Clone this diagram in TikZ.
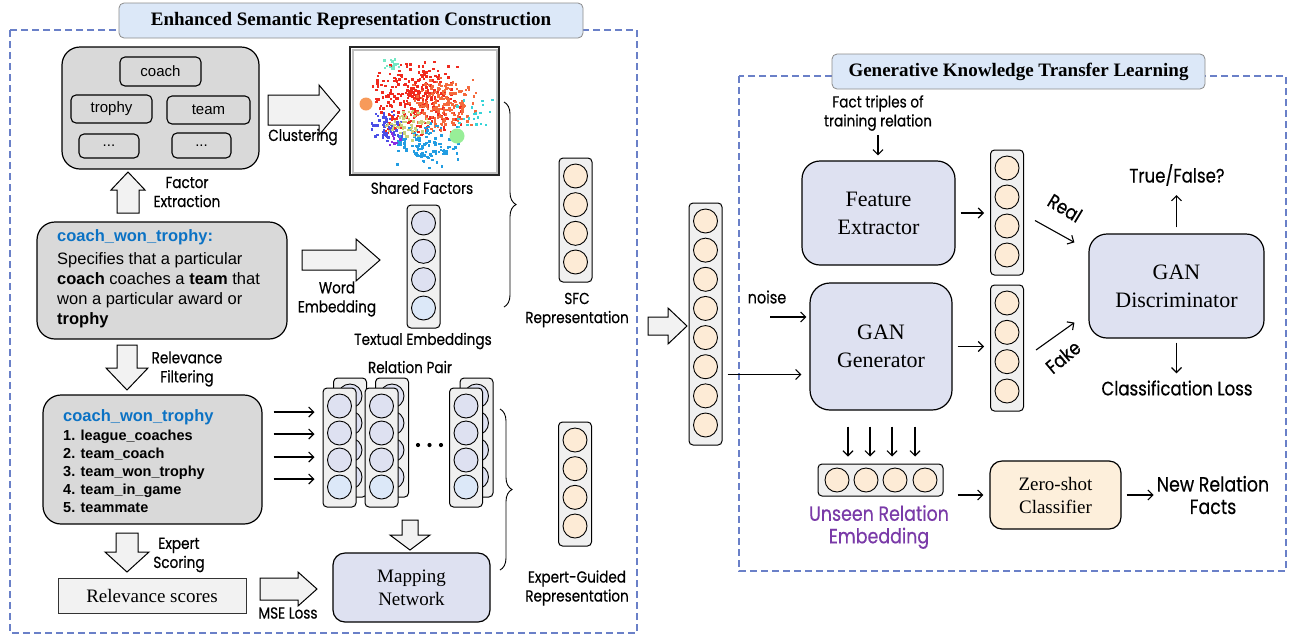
\documentclass[tikz,border=0pt]{standalone}
\usepackage{fontspec}
\setmainfont{Liberation Serif}
\newfontfamily\arialf{Liberation Sans}
\newfontfamily\labf[FakeStretch=0.85,FakeBold=0.4]{Poppins}
\usetikzlibrary{arrows.meta,decorations.pathreplacing,calc}
\definecolor{dashblue}{HTML}{6A80C8}
\definecolor{titlefill}{HTML}{DCE8F8}
\definecolor{boxgray}{HTML}{D9D9D9}
\definecolor{lav}{HTML}{DEE1F1}
\definecolor{peach}{HTML}{FDEBD6}
\definecolor{lblue}{HTML}{DCE8F8}
\definecolor{vecfill}{HTML}{F0F0F0}
\definecolor{keyblue}{HTML}{0B72C4}
\definecolor{purp}{HTML}{7A3AA8}
\definecolor{zsfill}{HTML}{FDEFDB}
\definecolor{arrfill}{HTML}{F2F2F2}
\definecolor{sred}{HTML}{F02A1E}
\definecolor{sorange}{HTML}{F4693C}
\definecolor{sviolet}{HTML}{4B4FE6}
\definecolor{sazure}{HTML}{229DE2}
\definecolor{solive}{HTML}{CAD27E}
\definecolor{scyan}{HTML}{36D3D8}
\definecolor{saqua}{HTML}{74E8C4}
\definecolor{spurple}{HTML}{8A2BE2}
\definecolor{sbigorange}{HTML}{F79A5A}
\definecolor{sbiggreen}{HTML}{98EE98}

\newcommand\vecV[7]{%
  \pgfmathsetmacro\vt{#3-18}\pgfmathsetmacro\vb{#4+20}%
  \pgfmathsetmacro\vh{\vb-\vt}\pgfmathsetmacro\vc{(\vt+\vb)/2}%
  \pgfmathsetmacro\vs{(#4-#3)/(#5-1)}%
  \node[vecbox, minimum height=\vh pt] (#1) at (#2,\vc) {};
  \foreach \k in {1,...,#5}{%
    \ifnum\k=#5 \def\cf{#7}\else\def\cf{#6}\fi
    \node[cnode, fill=\cf] (#1-\k) at (#2,{#3+(\k-1)*\vs}) {};
  }}
\newcommand\blockarr[7]{%
  \begin{scope}[shift={(#1,#2)},rotate=#4]
  \draw[barrow] (0,-#5) -- ({#3-#7},-#5) -- ({#3-#7},-#6) -- (#3,0) -- ({#3-#7},#6) -- ({#3-#7},#5) -- (0,#5) -- cycle;
  \end{scope}}

\begin{document}
\begin{tikzpicture}[x=1pt,y=-1pt,
  vecbox/.style={draw, line width=1pt, fill=vecfill, rounded corners=4pt, minimum width=33pt, inner sep=0pt},
  cnode/.style={circle, draw, line width=0.9pt, minimum size=24pt, inner sep=0pt},
  graybox/.style={draw, line width=1.2pt, fill=boxgray, rounded corners=18pt, inner sep=0pt},
  wordbox/.style={draw, line width=1.1pt, fill=boxgray, rounded corners=5pt, inner sep=0pt, font=\arialf\fontsize{15}{18}\selectfont},
  lavbox/.style={draw, line width=1.2pt, fill=lav, rounded corners=18pt, inner sep=0pt, align=center, font=\fontsize{22}{28}\selectfont},
  titlebox/.style={draw=black!45, line width=0.8pt, fill=titlefill, rounded corners=5pt, inner sep=0pt, font=\bfseries\fontsize{19}{22}\selectfont},
  dashbox/.style={draw=dashblue, line width=1.3pt, dash pattern=on 7pt off 4pt},
  barrow/.style={draw, line width=1pt, fill=arrfill, line join=miter},
  arr/.style={-{Straight Barb[length=5pt,width=10pt]}, line width=1.1pt},
  lab/.style={font=\labf\fontsize{16}{19}\selectfont, align=center, inner sep=0pt},
  labR/.style={font=\labf\fontsize{19.5}{22}\selectfont, align=center, inner sep=0pt},
  labB/.style={font=\labf\fontsize{20.5}{22.5}\selectfont, align=center, inner sep=0pt},
  desc/.style={font=\arialf\fontsize{16.5}{20}\selectfont, anchor=base west, inner sep=0pt},
  item/.style={font=\arialf\bfseries\fontsize{14.5}{18}\selectfont, anchor=base west, inner sep=0pt},
  head/.style={font=\arialf\bfseries\fontsize{16.5}{20}\selectfont, text=keyblue, anchor=base west, inner sep=0pt},
  brace/.style={decorate, decoration={brace, amplitude=12pt, aspect=0.5}, line width=0.9pt}
]
\useasboundingbox (0,0) rectangle (1293,641);
\fill[white] (0,0) rectangle (1293,641);

% ---------- frames ----------
\draw[dashbox] (10,30) rectangle (637,633);
\draw[dashbox] (739,76) rectangle (1286,571);
\node[titlebox, minimum width=464pt, minimum height=35pt] (tl) at (351,20.5) {Enhanced Semantic Representation Construction};
\node[titlebox, minimum width=373pt, minimum height=35pt] (tr) at (1018.5,71.5) {Generative Knowledge Transfer Learning};

% ---------- factor box ----------
\node[graybox, minimum width=197pt, minimum height=122pt] (fac) at (160.5,108) {};
\node[wordbox, minimum width=81pt, minimum height=29pt] (wcoach) at (160.5,71.5) {coach};
\node[wordbox, minimum width=81pt, minimum height=28pt] (wtrophy) at (111.5,109) {trophy};
\node[wordbox, minimum width=83pt, minimum height=28pt] (wteam) at (208.5,110) {team};
\node[wordbox, minimum width=60pt, minimum height=24pt] (wd1) at (109,146) {...};
\node[wordbox, minimum width=59pt, minimum height=25pt] (wd2) at (201.5,145.5) {...};

% ---------- scatter ----------
\node[draw=black!85, line width=1.5pt, fill=white, minimum width=149pt, minimum height=128pt, inner sep=0pt] (sc) at (424.5,111) {};
\begin{scope}
\clip (353,50) rectangle (496,172);
\pgfmathsetseed{11}
\foreach \i in {1,...,300} \fill[sred] ({416+50*(rand+rand)/2},{97+40*(rand+rand)/2}) rectangle ++(2.5,2.5);
\foreach \i in {1,...,180} \fill[sorange] ({443+36*(rand+rand)/2},{104+30*(rand+rand)/2}) rectangle ++(2.5,2.5);
\foreach \i in {1,...,60} \fill[sviolet] ({387+20*(rand+rand)/2},{124+17*(rand+rand)/2}) rectangle ++(2.5,2.5);
\foreach \i in {1,...,110} \fill[sazure] ({425+36*(rand+rand)/2},{144+24*(rand+rand)/2}) rectangle ++(2.5,2.5);
\foreach \i in {1,...,60} \fill[solive] ({406+24*(rand+rand)/2},{123+18*(rand+rand)/2}) rectangle ++(2.5,2.5);
\foreach \i in {1,...,22} \fill[scyan] ({474+18*rand},{112+16*rand}) rectangle ++(2.4,2.4);
\foreach \i in {1,...,16} \fill[saqua] ({391+8*rand},{63+5*rand}) rectangle ++(2.4,2.4);
\foreach \i in {1,...,10} \fill[spurple] ({394+6*rand},{138+6*rand}) rectangle ++(2.4,2.4);
\fill[sbigorange] (366,104) circle (6.5);
\fill[sbiggreen] (457,136) circle (7.5);
\end{scope}
\draw[black!25, line width=2pt] (352.5,49.5) rectangle (496.5,172.5);
\node[lab] (lclu) at (303,137) {Clustering};
\node[lab] (lsf) at (422,188) {Shared Factors};
\blockarr{268}{110}{72}{0}{15}{25}{21}

% ---------- description box ----------
\node[graybox, minimum width=250pt, minimum height=117pt] (txt) at (162,280.5) {};
\node[head] (h1) at (57,241) {coach\_won\_trophy:};
\node[desc] (d1) at (57,264) {Specifies that a particular};
\node[desc] (d2) at (57,284) {\textbf{coach} coaches a \textbf{team} that};
\node[desc] (d3) at (57,304) {won a particular award or};
\node[desc] (d4) at (57,324) {\textbf{trophy}};
\blockarr{128}{213}{41}{90}{11}{17}{18}
\node[lab] (lfe) at (187,192) {Factor\\Extraction};

% ---------- textual embeddings ----------
\blockarr{302}{260}{78}{0}{10}{21}{24}
\node[lab] (lwe) at (337,299) {Word\\Embedding};
\vecV{tev}{423.5}{223}{308}{4}{lav}{lblue}
\node[lab] (lte) at (423,341) {Textual Embeddings};

% ---------- SFC ----------
\draw[brace] (504,102) -- (504,307);
\vecV{sfc}{575.5}{176}{262}{4}{peach}{peach}
\node[lab] (lsfc) at (577,310) {SFC\\Representation};

% ---------- relevance filtering ----------
\blockarr{127}{345}{45}{-90}{10}{21}{22}
\node[lab] (lrf) at (187,369) {Relevance\\Filtering};
\node[graybox, minimum width=219pt, minimum height=129pt] (lst) at (152.5,459.5) {};
\node[head] (h2) at (63,421) {coach\_won\_trophy};
\node[item] (i1) at (63,440) {1. league\_coaches};
\node[item] (i2) at (63,458) {2. team\_coach};
\node[item] (i3) at (63,476) {3. team\_won\_trophy};
\node[item] (i4) at (63,494) {4. team\_in\_game};
\node[item] (i5) at (63,512) {5. teammate};

% ---------- relation pairs ----------
\node[lab] (lrp) at (410,367) {Relation Pair};
\vecV{pb1}{350}{396}{477}{4}{lav}{lav}
\vecV{pb2}{392}{396}{477}{4}{lav}{lav}
\vecV{pb3}{476.5}{396}{477}{4}{lav}{lav}
\vecV{pf1}{339.5}{406}{487}{4}{lav}{lblue}
\vecV{pf2}{381.5}{406}{487}{4}{lav}{lblue}
\vecV{pf3}{466}{406}{487}{4}{lav}{lblue}
\foreach \dx [count=\j] in {418,429.5,441} \fill (\dx,445) circle (2.1) node[inner sep=0pt] (dot\j) {};
\foreach \s in {47.5,25.5,2.5,-19.5}
  \draw[arr, shorten <=11pt, shorten >=8pt] ([yshift=\s pt]lst.east) -- ([yshift=\s pt]lst.east -| pf1.west);

% ---------- expert guided ----------
\draw[brace] (500,409) -- (500,570);
\vecV{egr}{575}{440}{526}{4}{peach}{peach}
\node[lab] (legr) at (577,588) {Expert-Guided\\Representation};
\blockarr{410}{520}{30}{-90}{8}{20}{15}
\node[draw, line width=1.2pt, fill=lav, rounded corners=12pt, minimum width=157pt, minimum height=69pt, align=center, font=\fontsize{19}{23}\selectfont, inner sep=0pt] (map) at (411.5,587.5) {Mapping\\Network};
\blockarr{127}{533}{39}{-90}{11}{22}{20}
\node[lab] (les) at (179,555) {Expert\\Scoring};
\node[draw=black!80, line width=0.8pt, fill=arrfill, minimum width=188pt, minimum height=35pt, font=\fontsize{19}{22}\selectfont, inner sep=0pt] (rs) at (152,595.5) {Relevance scores};
\blockarr{260}{589}{57}{0}{11}{17}{19}
\node[lab] (lmse) at (288,613) {MSE Loss};

% ---------- middle vector ----------
\blockarr{648}{326}{39}{0}{9}{18}{19}
\vecV{mid}{705.5}{221}{425}{8}{peach}{peach}

% ---------- right panel ----------
\node[lab] (lft) at (878,113) {Fact triples of\\training relation};
\node[lavbox, minimum width=153pt, minimum height=104pt] (fe) at (878.5,213) {Feature\\Extractor};
\draw[arr, shorten <=4pt, shorten >=5pt] (lft.south) -- (lft.south |- fe.north);
\node[lavbox, rounded corners=20pt, minimum width=142pt, minimum height=127pt] (gen) at (881,346.5) {GAN\\Generator};
\node[lavbox, minimum width=175pt, minimum height=104pt] (disc) at (1176.5,286) {GAN\\Discriminator};
\vecV{real}{1007}{168}{255}{4}{peach}{peach}
\vecV{fake}{1007}{303}{391}{4}{peach}{peach}
\draw[arr, shorten <=5pt, shorten >=6pt] (fe.east) -- (fe.east -| real.west);
\draw[arr, shorten <=5pt, shorten >=6pt] (gen.east) -- (gen.east -| fake.west);
\draw[arr] ([shift={(11,8)}]real.east) -- ([shift={(-14,9)}]disc.north west);
\draw[arr] ([shift={(12,2)}]fake.east) -- ([shift={(-14,-16)}]disc.south west);
\node[labR, rotate=-31] (lreal) at (1065,208) {Real};
\node[labR, rotate=40] (lfake) at (1063,357) {Fake};
\node[labR] (ltf) at (1177,175) {True/False?};
\node[labR] (lcl) at (1177,388) {Classification Loss};
\draw[arr, shorten <=6pt, shorten >=9pt] (disc.north) -- (disc.north |- ltf.south);
\draw[arr, shorten <=4pt, shorten >=7pt] (disc.south) -- (disc.south |- lcl.north);
\node[font=\labf\fontsize{17}{20}\selectfont, inner sep=0pt] (lnoise) at (767,297) {noise};
\coordinate (nz) at (770,317);
\draw[arr, shorten >=3pt] (nz) -- (nz -| gen.west);
\draw[arr, shorten <=5pt, shorten >=8pt] ([yshift=-50.5pt]mid.east) -- ([yshift=-50.5pt]mid.east -| gen.west);

% unseen relation embedding
\node[vecbox, minimum width=125pt, minimum height=32pt] (uv) at (880.5,480) {};
\foreach \xx [count=\j] in {837,866,895,925} \node[cnode, fill=peach] (uv-\j) at (\xx,480) {};
\foreach \s in {-33,-11,11,34}
  \draw[arr, shorten <=16pt, shorten >=7pt] ([xshift=\s pt]gen.south) -- ([xshift=\s pt]gen.south |- uv.north);
\node[labB, text=purp] (lue) at (879,527) {Unseen Relation\\Embedding};
\node[draw, line width=1.2pt, fill=zsfill, rounded corners=12pt, minimum width=131pt, minimum height=68pt, align=center, font=\fontsize{19}{23}\selectfont, inner sep=0pt] (zs) at (1055.5,495) {Zero-shot\\Classifier};
\draw[arr, shorten <=14pt, shorten >=6pt] (uv.east |- zs.west) -- (zs.west);
\node[labB] (lnr) at (1213,495) {New Relation\\Facts};
\draw[arr, shorten <=5pt, shorten >=3pt] (zs.east) -- (zs.east -| lnr.west);
\end{tikzpicture}
\end{document}
